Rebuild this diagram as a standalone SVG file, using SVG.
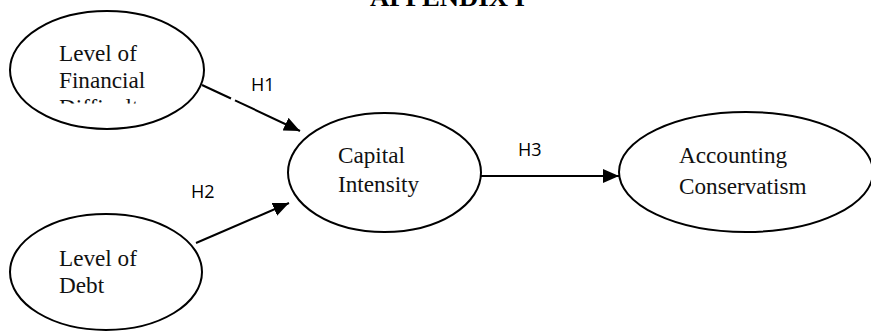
<svg xmlns="http://www.w3.org/2000/svg" width="871" height="331" viewBox="0 0 871 331">
<style>
.node ellipse{fill:#fff;stroke:#000;stroke-width:2}
.lbl{font-family:"Liberation Serif","Times New Roman",serif;font-size:23.2px;fill:#111}
.h{font-family:"Open Sans","DejaVu Sans",sans-serif;font-size:18px;fill:#000}
.edge{stroke:#000;stroke-width:2;fill:none}
.title{font-family:"Liberation Serif","Times New Roman",serif;font-size:26px;font-weight:bold;fill:#000}
</style>
<defs>
<marker id="ah" markerUnits="userSpaceOnUse" markerWidth="17" markerHeight="14" refX="16" refY="7" orient="auto">
<path d="M0,0 L16,7 L0,14 z" fill="#000"/>
</marker>
<clipPath id="c1"><rect x="50" y="30" width="185" height="73.5"/></clipPath>
</defs>
<text class="title" x="370" y="6" textLength="155" lengthAdjust="spacingAndGlyphs">APPENDIX I</text>
<g id="connectors">
<line class="edge" x1="202" y1="85" x2="231" y2="98.5"/>
<line class="edge" x1="235" y1="100.3" x2="300" y2="131" marker-end="url(#ah)"/>
<line class="edge" x1="196" y1="243" x2="289" y2="203" marker-end="url(#ah)"/>
<line class="edge" x1="481" y1="176" x2="619" y2="176" marker-end="url(#ah)"/>
<text class="h" x="251" y="91">H1</text>
<text class="h" x="191" y="198">H2</text>
<text class="h" x="518" y="156">H3</text>
</g>
<g id="node-financial" class="node">
<ellipse cx="107" cy="70" rx="97" ry="59"/>
<g clip-path="url(#c1)">
<text class="lbl" x="59" y="61">Level of</text>
<text class="lbl" x="59" y="88">Financial</text>
<text class="lbl" x="59" y="115">Difficulty</text>
</g>
</g>
<g id="node-debt" class="node">
<ellipse cx="106" cy="272" rx="96" ry="58"/>
<text class="lbl" x="59" y="266">Level of</text>
<text class="lbl" x="59" y="293">Debt</text>
</g>
<g id="node-capital" class="node">
<ellipse cx="384.5" cy="172.5" rx="96.5" ry="59.5"/>
<text class="lbl" x="338" y="163">Capital</text>
<text class="lbl" x="338" y="192">Intensity</text>
</g>
<g id="node-accounting" class="node">
<ellipse cx="746" cy="172" rx="127" ry="60"/>
<text class="lbl" x="679" y="163">Accounting</text>
<text class="lbl" x="679" y="194">Conservatism</text>
</g>
</svg>
